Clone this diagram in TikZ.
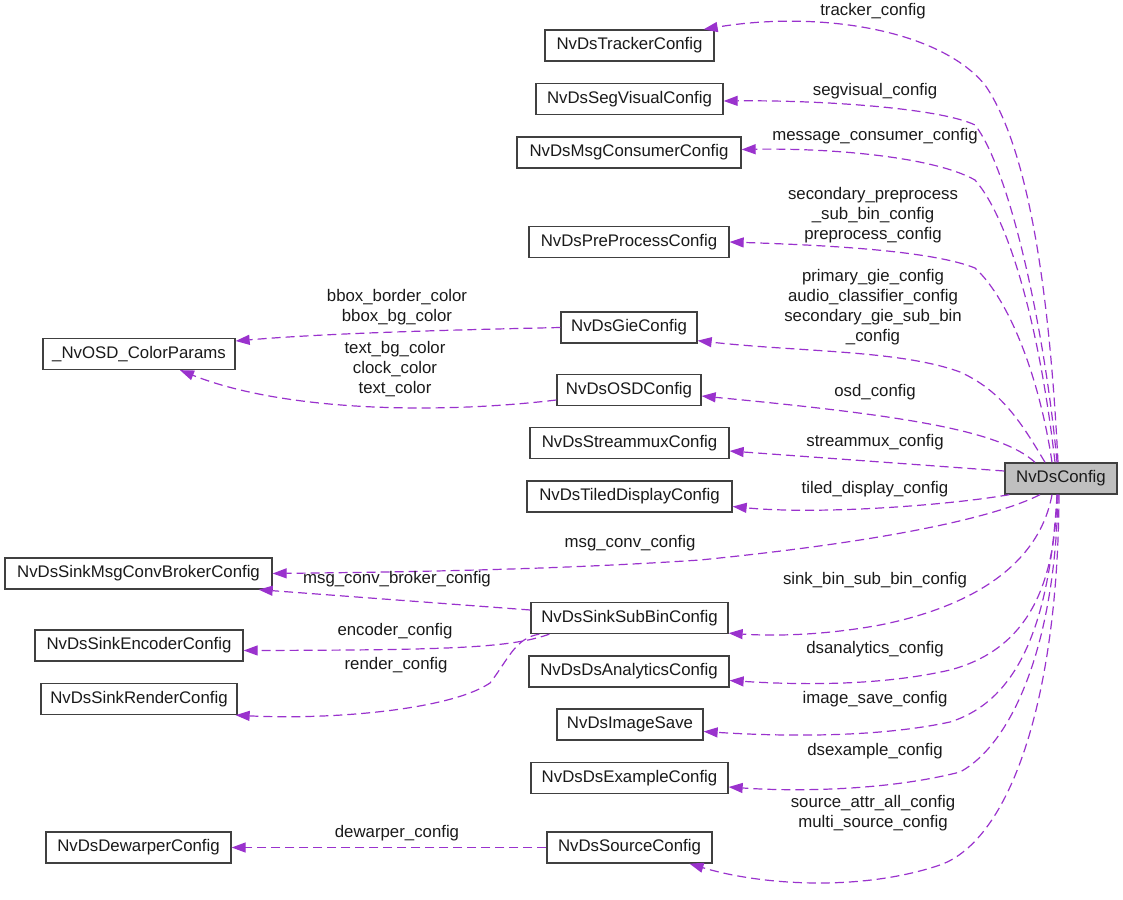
\documentclass[tikz,border=0pt]{standalone}
\usepackage{fontspec}
\setmainfont{Liberation Sans}
\usetikzlibrary{arrows.meta}
\definecolor{edgecol}{HTML}{9A32CD}
\definecolor{txt}{HTML}{1A1A1A}
\definecolor{boxline}{HTML}{404040}
\begin{document}
\begin{tikzpicture}[x=1pt,y=-1pt,
  every node/.style={font=\fontsize{16.8}{20}\selectfont, text=txt},
  cls/.style={draw=boxline, line width=1.3pt, fill=white, minimum height=31pt, inner sep=0pt, anchor=center},
  main/.style={cls, fill=black!25},
  lbl/.style={align=center, inner sep=0pt},
  edge/.style={draw=edgecol, line width=1.2pt, dash pattern=on 9pt off 5pt, -{Triangle[length=14pt,width=10pt]}}
]
\useasboundingbox (0,0) rectangle (1123,899);
% nodes
\node[main, minimum width=112pt] (cfg) at (1061,478.5) {NvDsConfig};
\node[cls, minimum width=169pt] (trk) at (629.5,45.5) {NvDsTrackerConfig};
\node[cls, minimum width=187pt] (seg) at (629.5,99) {NvDsSegVisualConfig};
\node[cls, minimum width=224pt] (mc) at (629,152.5) {NvDsMsgConsumerConfig};
\node[cls, minimum width=200pt] (pp) at (629,242) {NvDsPreProcessConfig};
\node[cls, minimum width=136pt] (gie) at (629,327.5) {NvDsGieConfig};
\node[cls, minimum width=144pt] (osd) at (629,390) {NvDsOSDConfig};
\node[cls, minimum width=199pt] (sm) at (629.5,443) {NvDsStreammuxConfig};
\node[cls, minimum width=205pt] (td) at (629.5,496.5) {NvDsTiledDisplayConfig};
\node[cls, minimum width=267pt] (brk) at (138.5,573.5) {NvDsSinkMsgConvBrokerConfig};
\node[cls, minimum width=197pt] (ssb) at (629.5,618) {NvDsSinkSubBinConfig};
\node[cls, minimum width=208pt] (enc) at (139,645.5) {NvDsSinkEncoderConfig};
\node[cls, minimum width=196pt] (rnd) at (139,699) {NvDsSinkRenderConfig};
\node[cls, minimum width=200pt] (da) at (629,671.5) {NvDsDsAnalyticsConfig};
\node[cls, minimum width=146pt] (is) at (630,724.5) {NvDsImageSave};
\node[cls, minimum width=197pt] (dx) at (629.5,778) {NvDsDsExampleConfig};
\node[cls, minimum width=185pt] (dew) at (138.5,847.5) {NvDsDewarperConfig};
\node[cls, minimum width=165pt] (src) at (629.5,847.5) {NvDsSourceConfig};
\node[cls, minimum width=192pt] (col) at (139,354) {\_NvOSD\_ColorParams};

% edges from NvDsConfig
\draw[edge] ([xshift=-3pt]cfg.north) .. controls (1050,300) and (1030,150) .. (985,85) .. controls (940,30) and (820,10) .. ([xshift=-11pt]trk.north east);
\draw[edge] ([xshift=-4pt]cfg.north) .. controls (1045,330) and (1010,170) .. (975,125) .. controls (940,108) and (820,100) .. ([yshift=-2pt]seg.east);
\draw[edge] ([xshift=-6pt]cfg.north) .. controls (1040,330) and (1010,220) .. (975,180) .. controls (930,155) and (820,148) .. ([yshift=3pt]mc.east);
\draw[edge] ([xshift=-9pt]cfg.north) .. controls (1040,380) and (1010,300) .. (975,268) .. controls (930,250) and (820,245) .. (pp.east);
\draw[edge] ([xshift=-16pt]cfg.north) .. controls (1020,420) and (1000,390) .. (960,372) .. controls (900,350) and (800,352) .. ([yshift=3pt]gie.south east);
\draw[edge] ([xshift=-26pt]cfg.north) .. controls (1000,430) and (900,415) .. ([yshift=-6pt]osd.east);
\draw[edge] ([yshift=7.5pt]cfg.west) -- ([yshift=-8pt]sm.east);
\draw[edge] ([xshift=5pt]cfg.south west) .. controls (950,505) and (820,515) .. ([yshift=-10pt]td.east);
\draw[edge] ([xshift=-21pt]cfg.south) .. controls (1000,515) and (900,540) .. (700,560) .. controls (550,570) and (400,572) .. (brk.east);
\draw[edge] ([xshift=-9pt]cfg.south) .. controls (1040,560) and (980,605) .. (880,625) .. controls (820,636) and (770,636) .. ([yshift=1pt]ssb.south east);
\draw[edge] ([xshift=-4pt]cfg.south) .. controls (1055,590) and (1025,650) .. (950,670) .. controls (880,686) and (800,685) .. ([yshift=-9pt]da.east);
\draw[edge] ([xshift=-4pt]cfg.south) .. controls (1050,620) and (1020,700) .. (950,722) .. controls (880,737) and (790,737) .. ([yshift=-7pt]is.east);
\draw[edge] ([xshift=-3pt]cfg.south) .. controls (1055,650) and (1010,745) .. (960,772) .. controls (890,790) and (800,792) .. ([yshift=-9pt]dx.east);
\draw[edge] ([xshift=-2pt]cfg.south) .. controls (1058,700) and (1010,840) .. (940,865) .. controls (860,892) and (760,885) .. ([xshift=60pt]src.south);

% other edges
\draw[edge] (gie.west) .. controls (450,330) and (330,333) .. ([yshift=13pt]col.east);
\draw[edge] ([yshift=-10pt]osd.west) .. controls (430,415) and (280,410) .. ([xshift=41pt]col.south);
\draw[edge] ([yshift=8pt]ssb.west) -- ([xshift=-14pt]brk.south east);
\draw[edge] ([xshift=19pt]ssb.south west) .. controls (510,648) and (450,650) .. ([yshift=-5pt]enc.east);
\draw[edge] ([xshift=9pt]ssb.south west) .. controls (515,638) and (508,660) .. (490,683) .. controls (450,710) and (330,720) .. ([xshift=-2pt]rnd.south east);
\draw[edge] (src.west) -- (dew.east);

% labels
\node[lbl] (l1) at (873,11) {tracker\_config};
\node[lbl] (l2) at (875,91) {segvisual\_config};
\node[lbl] (l3) at (875,136) {message\_consumer\_config};
\node[lbl] (l4) at (873,215) {secondary\_preprocess\\\_sub\_bin\_config\\preprocess\_config};
\node[lbl] (l5) at (873,307) {primary\_gie\_config\\audio\_classifier\_config\\secondary\_gie\_sub\_bin\\\_config};
\node[lbl] (l6) at (397,307) {bbox\_border\_color\\bbox\_bg\_color};
\node[lbl] (l7) at (395,369) {text\_bg\_color\\clock\_color\\text\_color};
\node[lbl] (l8) at (875,392) {osd\_config};
\node[lbl] (l9) at (875,442) {streammux\_config};
\node[lbl] (l10) at (875,489) {tiled\_display\_config};
\node[lbl] (l11) at (630,543) {msg\_conv\_config};
\node[lbl] (l12) at (397,579) {msg\_conv\_broker\_config};
\node[lbl] (l13) at (875,580) {sink\_bin\_sub\_bin\_config};
\node[lbl] (l14) at (395,631) {encoder\_config};
\node[lbl] (l15) at (396,665) {render\_config};
\node[lbl] (l16) at (875,649) {dsanalytics\_config};
\node[lbl] (l17) at (875,699) {image\_save\_config};
\node[lbl] (l18) at (875,751) {dsexample\_config};
\node[lbl] (l19) at (873,813) {source\_attr\_all\_config\\multi\_source\_config};
\node[lbl] (l20) at (397,833) {dewarper\_config};
\end{tikzpicture}
\end{document}
